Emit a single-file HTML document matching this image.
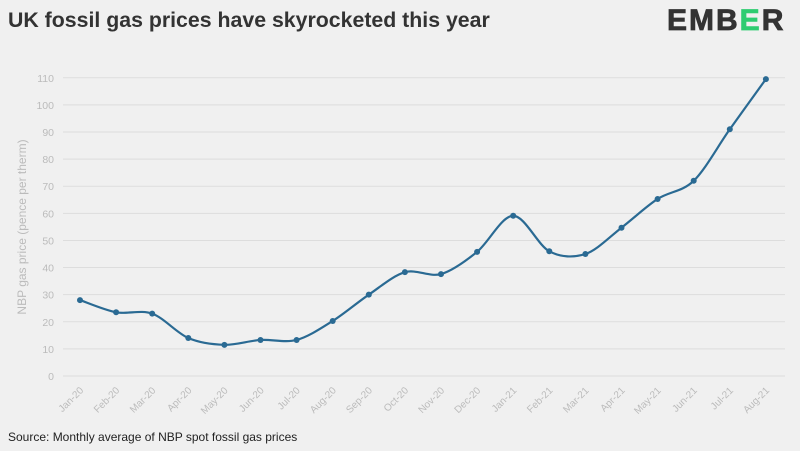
<!DOCTYPE html>
<html><head><meta charset="utf-8"><style>
body{margin:0;width:800px;height:451px;background:#f0f0f0;font-family:"Liberation Sans",sans-serif;overflow:hidden}
</style></head><body>
<svg id="s" width="800" height="451" xmlns="http://www.w3.org/2000/svg" style="position:absolute;left:0;top:0">
<text x="8" y="27" font-size="21.3" font-weight="bold" fill="#333">UK fossil gas prices have skyrocketed this year</text>
<text x="667" y="30" font-size="30" font-weight="bold" fill="#333" stroke="#333" stroke-width="0.8" letter-spacing="2">EMB<tspan fill="#2ecc71" stroke="#2ecc71">E</tspan>R</text>
<text x="8" y="441" font-size="12" fill="#222">Source: Monthly average of NBP spot fossil gas prices</text>
<text transform="translate(26,227) rotate(-90)" font-size="12" fill="#bbb" text-anchor="middle">NBP gas price (pence per therm)</text>
<g id="g"></g>
</svg>
<script>
var g=document.getElementById('g'),h='';
function Y(v){return 376-v*2.711}
function X(i){return 80+i*36.1}
for(var v=0;v<=110;v+=10){var y=Y(v);h+='<line x1="63" x2="785" y1="'+y+'" y2="'+y+'" stroke="#ddd" stroke-width="1"/><text x="54" y="'+(y+4)+'" font-size="10.5" fill="#bbb" text-anchor="end">'+v+'</text>';}
var L=['Jan-20','Feb-20','Mar-20','Apr-20','May-20','Jun-20','Jul-20','Aug-20','Sep-20','Oct-20','Nov-20','Dec-20','Jan-21','Feb-21','Mar-21','Apr-21','May-21','Jun-21','Jul-21','Aug-21'];
var D=[28,23.5,23,14,11.5,13.3,13.3,20.3,30,38.3,37.6,45.8,59.1,46,45,54.7,65.3,72,91,109.5];
L.forEach(function(l,i){var x=X(i)+4,y=391;h+='<text transform="translate('+x+','+y+') rotate(-45)" font-size="10" fill="#bbb" text-anchor="end">'+l+'</text>';});
var P=D.map(function(v,i){return [X(i),Y(v)]});
var d='M'+P[0][0]+','+P[0][1];
for(var i=0;i<P.length-1;i++){var p0=P[i-1]||P[i],p1=P[i],p2=P[i+1],p3=P[i+2]||P[i+1];var t=0.16;
d+=' C'+(p1[0]+(p2[0]-p0[0])*t)+','+(p1[1]+(p2[1]-p0[1])*t)+' '+(p2[0]-(p3[0]-p1[0])*t)+','+(p2[1]-(p3[1]-p1[1])*t)+' '+p2[0]+','+p2[1];}
h+='<path d="'+d+'" fill="none" stroke="#2a6a93" stroke-width="2.2"/>';
P.forEach(function(p){h+='<circle cx="'+p[0]+'" cy="'+p[1]+'" r="3" fill="#2a6a93"/>';});
g.innerHTML=h;
</script>
</body></html>
